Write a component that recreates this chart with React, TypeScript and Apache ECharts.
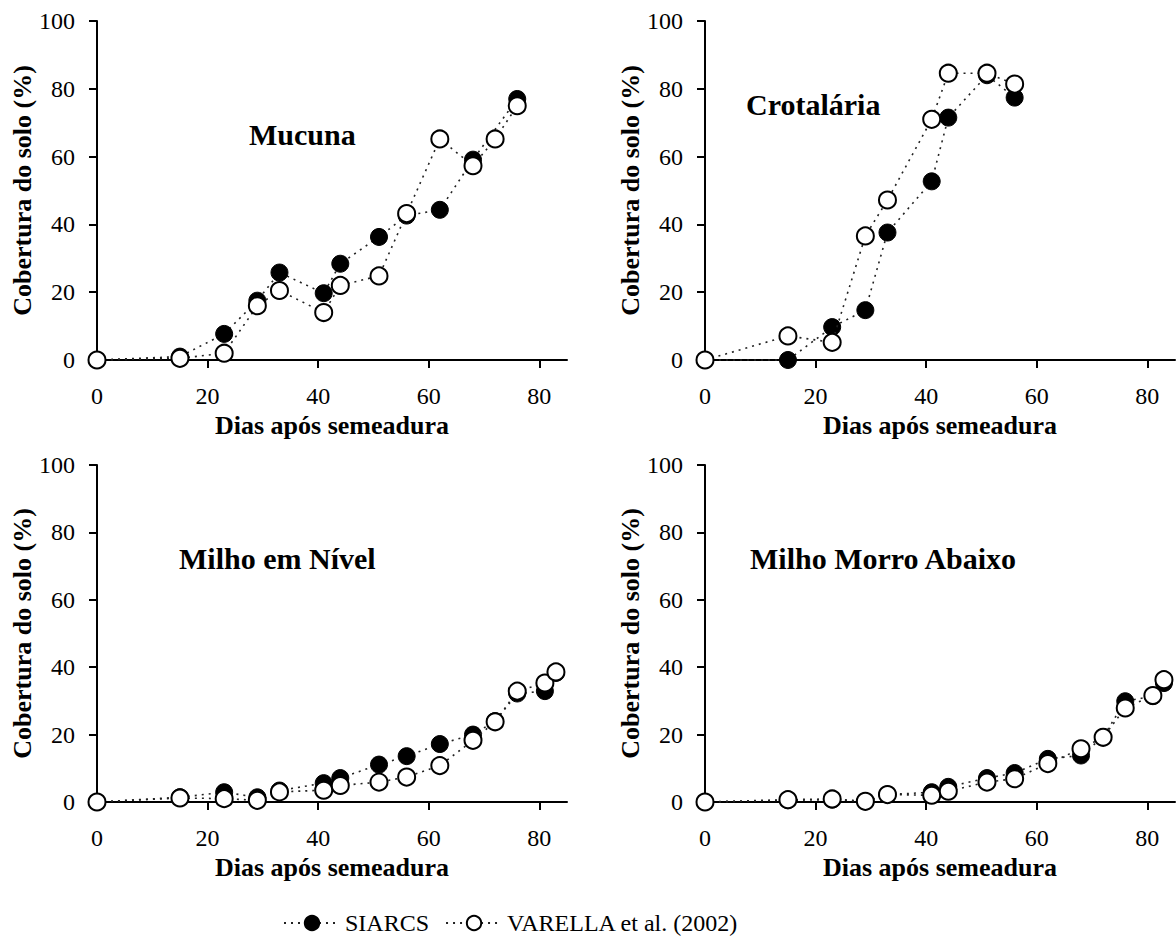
import React, { useEffect, useRef } from "react";
import * as echarts from "echarts";

// ---- Data (days after sowing, soil cover %) ----
const xTicks = [0, 20, 40, 60, 80];
const yTicks = [0, 20, 40, 60, 80, 100];

const panelTitles = ["Mucuna", "Crotalária", "Milho em Nível", "Milho Morro Abaixo"];

const mucunaSiarcsX = [0, 15, 23, 29, 33, 41, 44, 51, 56, 62, 68, 76];
const mucunaSiarcsY = [0, 1, 7.7, 17.5, 25.8, 19.7, 28.4, 36.3, 42.6, 44.3, 59.1, 77];
const mucunaVarellaX = [0, 15, 23, 29, 33, 41, 44, 51, 56, 62, 68, 72, 76];
const mucunaVarellaY = [0, 0.5, 2, 16, 20.5, 14, 22, 24.8, 43.2, 65.2, 57.3, 65.2, 75];

const crotSiarcsX = [0, 15, 23, 29, 33, 41, 44, 51, 56];
const crotSiarcsY = [0, 0, 9.7, 14.7, 37.6, 52.7, 71.5, 84, 77.4];
const crotVarellaX = [0, 15, 23, 29, 33, 41, 44, 51, 56];
const crotVarellaY = [0, 7.1, 5.2, 36.6, 47.2, 71, 84.6, 84.6, 81.4];

const nivelSiarcsX = [0, 15, 23, 29, 33, 41, 44, 51, 56, 62, 68, 72, 76, 81, 83];
const nivelSiarcsY = [0, 1.4, 2.9, 1.4, 3.4, 5.6, 7.1, 11.1, 13.6, 17.2, 20, 24, 32.2, 32.9, 38.3];
const nivelVarellaX = [0, 15, 23, 29, 33, 41, 44, 51, 56, 62, 68, 72, 76, 81, 83];
const nivelVarellaY = [0, 1.2, 1, 0.5, 3, 3.5, 4.9, 5.9, 7.4, 10.8, 18.3, 23.8, 32.9, 35.3, 38.6];

const morroSiarcsX = [0, 15, 23, 29, 33, 41, 44, 51, 56, 62, 68, 72, 76, 81, 83];
const morroSiarcsY = [0, 0.5, 0.7, 0.2, 2.2, 2.9, 4.5, 7.1, 8.6, 12.8, 13.8, 19.3, 29.9, 31.4, 35.3];
const morroVarellaX = [0, 15, 23, 29, 33, 41, 44, 51, 56, 62, 68, 72, 76, 81, 83];
const morroVarellaY = [0, 0.7, 0.9, 0.2, 2.2, 2, 3.2, 5.9, 6.9, 11.4, 15.8, 19.2, 27.9, 31.6, 36.3];

const SIARCS = "SIARCS";
const VARELLA = "VARELLA et al. (2002)";

const zip = (xs: number[], ys: number[]) => xs.map((x, i) => [x, ys[i]]);

const panels = [
  { siarcs: zip(mucunaSiarcsX, mucunaSiarcsY), varella: zip(mucunaVarellaX, mucunaVarellaY) },
  { siarcs: zip(crotSiarcsX, crotSiarcsY), varella: zip(crotVarellaX, crotVarellaY) },
  { siarcs: zip(nivelSiarcsX, nivelSiarcsY), varella: zip(nivelVarellaX, nivelVarellaY) },
  { siarcs: zip(morroSiarcsX, morroSiarcsY), varella: zip(morroVarellaX, morroVarellaY) },
];

const FONT = "Liberation Serif, Times New Roman, serif";

export default function App() {
  const ref = useRef<HTMLDivElement>(null);

  useEffect(() => {
    if (!ref.current) return;
    const chart = echarts.init(ref.current, undefined, { renderer: "svg" });

    const grids = [
      { left: 97, top: 21, width: 470, height: 339 },
      { left: 705, top: 21, width: 470, height: 339 },
      { left: 97, top: 465, width: 470, height: 337 },
      { left: 705, top: 465, width: 470, height: 337 },
    ];

    const axisLine = { show: true, lineStyle: { color: "#000", width: 2 } };
    const axisTick = { show: true, inside: false, length: 8, lineStyle: { color: "#000", width: 2 } };

    const xAxis = grids.map((_, i) => ({
      type: "value",
      gridIndex: i,
      min: 0,
      max: 85,
      interval: 20,
      name: "Dias após semeadura",
      nameLocation: "middle",
      nameGap: 52,
      nameTextStyle: { fontFamily: FONT, fontWeight: "bold", fontSize: 26, color: "#000" },
      axisLine,
      axisTick: { ...axisTick, customValues: xTicks },
      axisLabel: { customValues: xTicks, fontFamily: FONT, fontSize: 24, color: "#000", margin: 24 },
      splitLine: { show: false },
    }));

    const yAxis = grids.map((_, i) => ({
      type: "value",
      gridIndex: i,
      min: 0,
      max: 100,
      interval: 20,
      name: "Cobertura do solo (%)",
      nameLocation: "middle",
      nameRotate: 90,
      nameGap: 58,
      nameTextStyle: { fontFamily: FONT, fontWeight: "bold", fontSize: 26, color: "#000" },
      axisLine,
      axisTick: { ...axisTick, customValues: yTicks },
      axisLabel: { customValues: yTicks, fontFamily: FONT, fontSize: 24, color: "#000", margin: 22 },
      splitLine: { show: false },
    }));

    const lineStyle = { color: "#222", width: 1.6, type: [2, 5] };

    const series: any[] = [];
    panels.forEach((p, i) => {
      series.push({
        type: "line",
        name: SIARCS,
        xAxisIndex: i,
        yAxisIndex: i,
        data: p.siarcs,
        symbol: "circle",
        symbolSize: 17,
        clip: false,
        lineStyle,
        itemStyle: { color: "#000", borderColor: "#000", borderWidth: 1 },
        z: 2,
      });
      series.push({
        type: "line",
        name: VARELLA,
        xAxisIndex: i,
        yAxisIndex: i,
        data: p.varella,
        symbol: "circle",
        symbolSize: 17,
        clip: false,
        lineStyle,
        itemStyle: { color: "#fff", borderColor: "#000", borderWidth: 2 },
        z: 3,
      });
    });

    const labelPos = [
      { left: 249, top: 134 },
      { left: 746, top: 104 },
      { left: 179, top: 558 },
      { left: 750, top: 558 },
    ];

    const graphic = panelTitles.map((t, i) => ({
      type: "text",
      x: labelPos[i].left,
      y: labelPos[i].top,
      style: {
        text: t,
        fontFamily: FONT,
        fontWeight: "bold",
        fontSize: 30,
        fill: "#000",
        textAlign: "left",
        textVerticalAlign: "middle",
      },
    }));

    chart.setOption({
      animation: false,
      backgroundColor: "#fff",
      grid: grids.map((g) => ({ ...g, containLabel: false })),
      xAxis,
      yAxis,
      series,
      graphic,
      legend: {
        data: [SIARCS, VARELLA],
        left: 278,
        top: 906,
        itemWidth: 56,
        itemHeight: 18,
        itemGap: 16,
        textStyle: { fontFamily: FONT, fontSize: 24, color: "#000" },
      },
    });

    return () => chart.dispose();
  }, []);

  return (
    <div
      ref={ref}
      style={{ position: "fixed", left: 0, top: 0, width: 1176, height: 942, background: "#fff" }}
    />
  );
}
